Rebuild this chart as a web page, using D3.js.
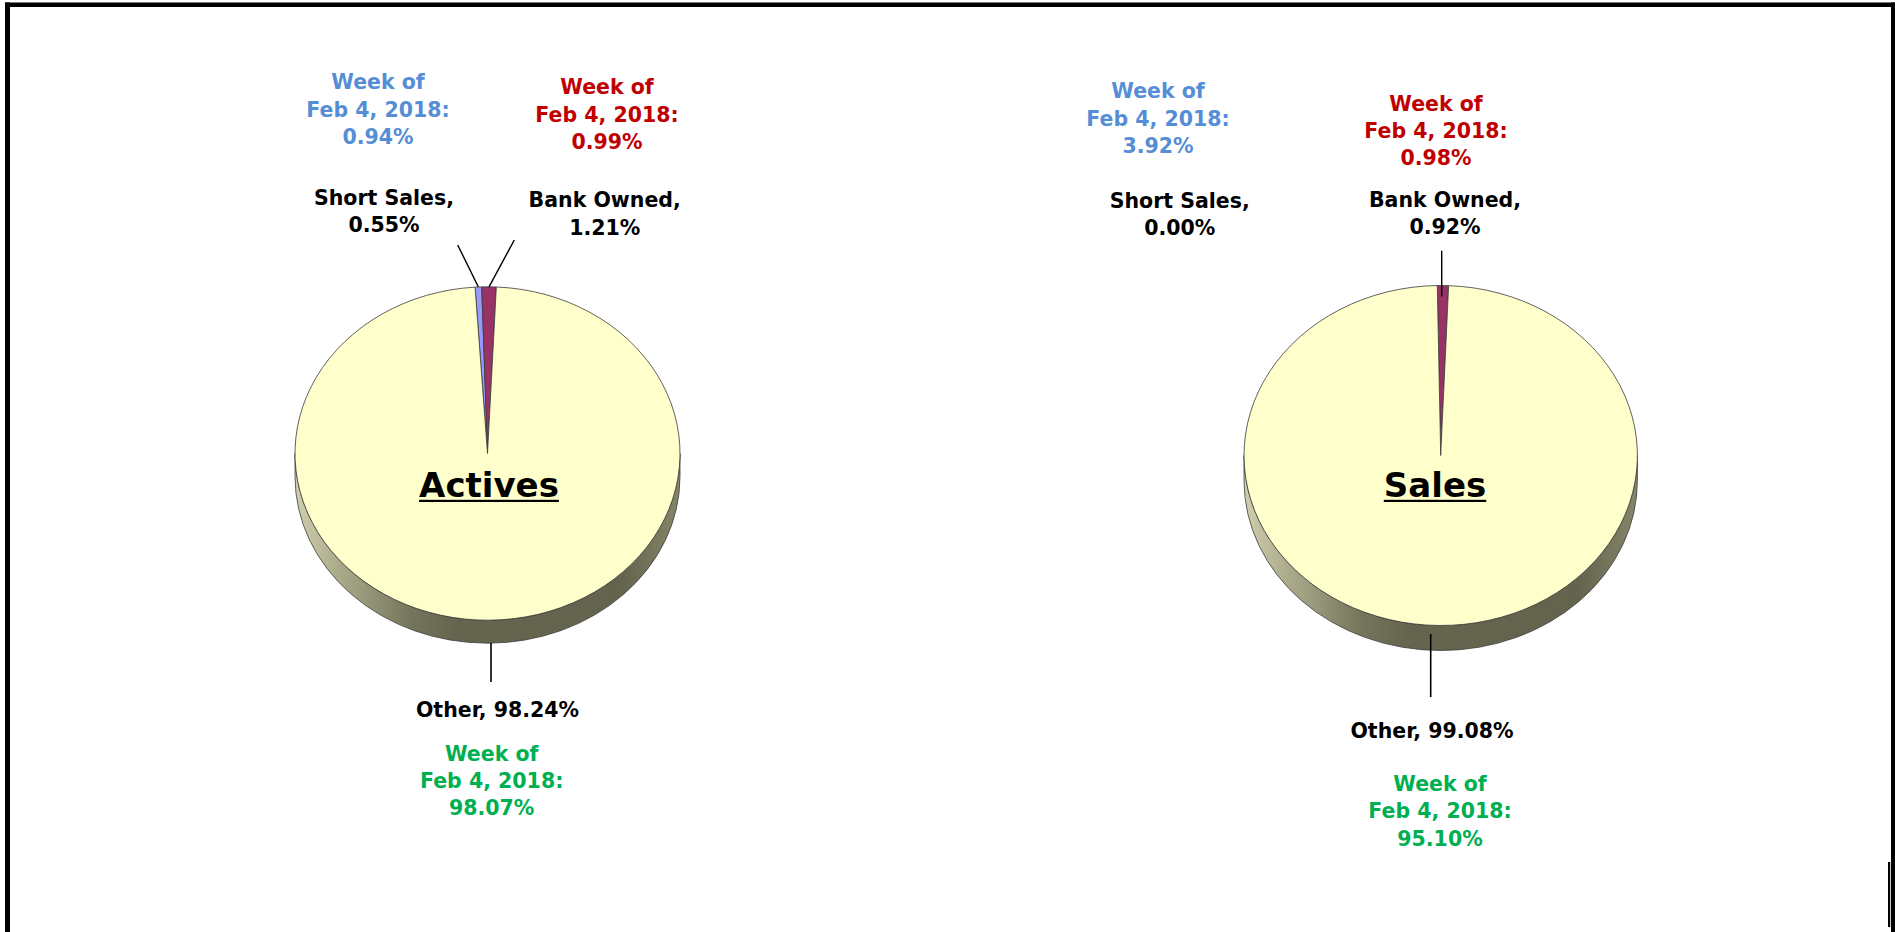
<!DOCTYPE html>
<html><head><meta charset="utf-8">
<script src="https://cdn.jsdelivr.net/npm/d3@7"></script>
<style>
body{margin:0;background:#fff;}
svg{display:block;}
text{font-family:"DejaVu Sans",sans-serif;font-weight:bold;}
</style>
</head><body>
<svg id="c" width="1895" height="932"></svg>
<script>
// ---- data ----
const charts = ["Actives", "Sales"];
const categories = ["Short Sales", "Bank Owned", "Other"];
const activesValues = [0.55, 1.21, 98.24];
const salesValues = [0.00, 0.92, 99.08];
const weekLabel = ["Week of", "Feb 4, 2018:"];
const activesWeek = [0.94, 0.99, 98.07];
const salesWeek = [3.92, 0.98, 95.10];

const sliceColors = ["#9999FF", "#993366", "#FFFFCC"];
const weekColors = ["#558ED5", "#C00000", "#00B050"];

// ---- layout ----
const layouts = [
  { cx: 487.5, cy: 453.5, rx: 192.5, ry: 166.7, depth: 23, rot: -3.7,
    week: [{x: 378, y: 89.3}, {x: 607, y: 94.3}, {x: 491.7, y: 760.7}],
    lab: [{x: 384, y: 205}, {x: 604.7, y: 207.3}, {x: 497.5, y: 716.7}],
    lead: [{x: 457.7, y: 245, inset: 0}, {x: 514.3, y: 240, inset: 0}, {x: 491, y0: 643, y1: 682}],
    title: {x: 489, y: 497.3} },
  { cx: 1440.7, cy: 455.5, rx: 196.7, ry: 170, depth: 25, rot: -1.0,
    week: [{x: 1158, y: 98.3}, {x: 1436, y: 110.7}, {x: 1440, y: 791}],
    lab: [{x: 1179.7, y: 207.7}, {x: 1445, y: 206.7}, {x: 1432, y: 738}],
    lead: [null, {x: 1441.7, y: 250.7, inset: 11, vertical: true}, {x: 1430.7, y0: 634, y1: 697}],
    title: {x: 1435, y: 497.3} }
];
const values = [activesValues, salesValues];
const weeks = [activesWeek, salesWeek];
const fs = 20.5, lh = 27.3;

const svg = d3.select("#c");
const defs = svg.append("defs");

// border
svg.append("rect").attr("x", 5).attr("y", 2.5).attr("width", 5).attr("height", 930).attr("fill", "#000");
svg.append("rect").attr("x", 5).attr("y", 2.5).attr("width", 1890).attr("height", 4.5).attr("fill", "#000");
svg.append("rect").attr("x", 1891).attr("y", 2.5).attr("width", 4).attr("height", 930).attr("fill", "#000");
svg.append("rect").attr("x", 1888).attr("y", 862).attr("width", 2.2).attr("height", 65).attr("fill", "#000");

function multiline(g, lines, x, y, color) {
  const t = g.append("text").attr("text-anchor", "middle").attr("font-size", fs).attr("fill", color);
  lines.forEach((s, i) => t.append("tspan").attr("x", x).attr("y", y + i * lh).text(s));
  return t;
}

charts.forEach((name, ci) => {
  const L = layouts[ci];
  const rot = L.rot * Math.PI / 180;
  const k = L.ry / L.rx;
  const data = categories.map((c, i) => ({c, v: values[ci][i], i}));
  const pie = d3.pie().sort(null).value(d => d.v).startAngle(rot).endAngle(rot + 2 * Math.PI);
  const arcs = pie(data);
  const arc = d3.arc().innerRadius(0).outerRadius(L.rx);
  const g = svg.append("g");

  // side gradient
  const gid = "side" + ci;
  const grad = defs.append("linearGradient").attr("id", gid).attr("gradientUnits", "userSpaceOnUse")
    .attr("x1", -L.rx).attr("x2", L.rx).attr("y1", 0).attr("y2", 0);
  [[0, "#cfcfae"], [0.12, "#a9a98a"], [0.3, "#75755c"], [0.42, "#65654f"], [0.85, "#64644e"], [1, "#86866a"]]
    .forEach(([o, c]) => grad.append("stop").attr("offset", o).attr("stop-color", c));

  const pg = g.append("g").attr("transform", `translate(${L.cx},${L.cy}) scale(1,${k})`);
  const dd = L.depth / k;
  const p = d3.path();
  p.moveTo(-L.rx, 0);
  p.arc(0, 0, L.rx, Math.PI, 0, true);
  p.lineTo(L.rx, dd);
  p.arc(0, dd, L.rx, 0, Math.PI, false);
  p.closePath();
  pg.append("path").attr("d", p.toString()).attr("fill", `url(#${gid})`)
    .attr("stroke", "#3c3c3c").attr("stroke-width", 0.8).attr("vector-effect", "non-scaling-stroke");

  pg.selectAll("path.slice").data(arcs.filter(a => a.value > 0)).join("path")
    .attr("class", "slice").attr("d", arc)
    .attr("fill", d => sliceColors[d.data.i])
    .attr("stroke", "#3a3a3a").attr("stroke-width", 0.8).attr("vector-effect", "non-scaling-stroke");

  const edge = (a, inset) => {
    const m = (a.startAngle + a.endAngle) / 2;
    return [L.cx + L.rx * Math.sin(m), L.cy - L.ry * Math.cos(m) + inset];
  };

  // leader lines
  arcs.forEach((a, i) => {
    const ld = L.lead[i];
    if (!ld) return;
    if (i === 2) {
      g.append("line").attr("x1", ld.x).attr("x2", ld.x).attr("y1", ld.y0).attr("y2", ld.y1)
        .attr("stroke", "#000").attr("stroke-width", 1.6);
    } else {
      const e = edge(a, ld.inset);
      const ex = ld.vertical ? ld.x : e[0];
      g.append("line").attr("x1", ex).attr("y1", e[1]).attr("x2", ld.x).attr("y2", ld.y)
        .attr("stroke", "#000").attr("stroke-width", 1.4);
    }
  });

  // category labels
  categories.forEach((c, i) => {
    const pos = L.lab[i];
    const val = values[ci][i].toFixed(2) + "%";
    const lines = i === 2 ? [c + ", " + val] : [c + ",", val];
    multiline(g, lines, pos.x, pos.y, "#000");
  });

  // week labels
  weeks[ci].forEach((w, i) => {
    const pos = L.week[i];
    multiline(g, [weekLabel[0], weekLabel[1], w.toFixed(2) + "%"], pos.x, pos.y, weekColors[i]);
  });

  // title
  const t = g.append("text").attr("x", L.title.x).attr("y", L.title.y).attr("text-anchor", "middle")
    .attr("font-size", 34).attr("fill", "#000").text(name);
  const w = t.node().getComputedTextLength();
  g.append("rect").attr("x", L.title.x - w / 2).attr("y", L.title.y + 2.5).attr("width", w).attr("height", 2.2).attr("fill", "#000");
});
</script>
</body></html>
